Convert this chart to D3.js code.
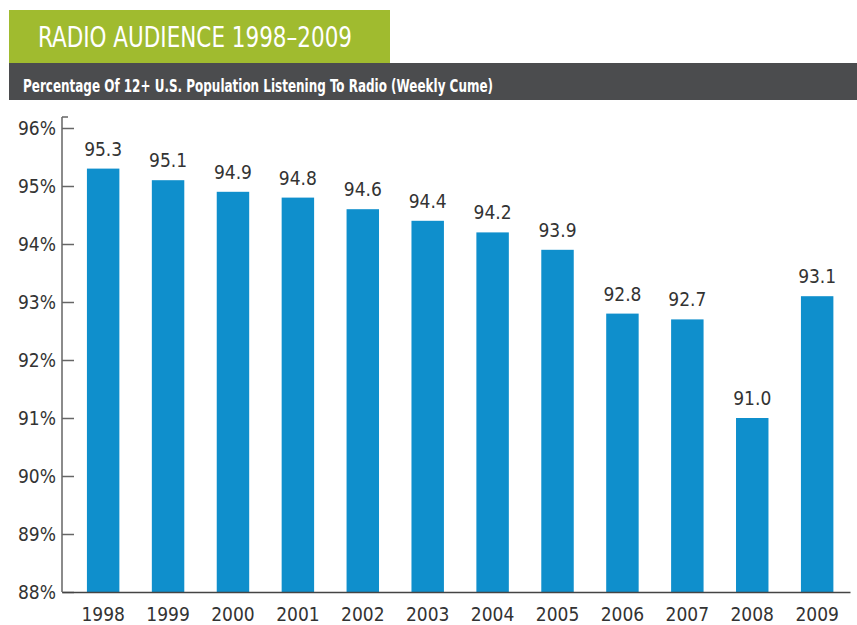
<!DOCTYPE html>
<html lang="en">
<head>
<meta charset="utf-8">
<title>Radio Audience</title>
<script src="https://cdn.jsdelivr.net/npm/d3@7"></script>
<style>
  html, body { margin: 0; padding: 0; background: #fff; }
  .nar { font-family: "Liberation Sans Narrow", "DejaVu Sans Condensed", "Arial Narrow", sans-serif; }
</style>
</head>
<body>
<script>
// data
const years = ["1998", "1999", "2000", "2001", "2002", "2003", "2004", "2005", "2006", "2007", "2008", "2009"];
const listening = [95.3, 95.1, 94.9, 94.8, 94.6, 94.4, 94.2, 93.9, 92.8, 92.7, 91.0, 93.1];
const yTicks = [88, 89, 90, 91, 92, 93, 94, 95, 96];

const w = 857, h = 625;

let svg = d3.select("body").append("svg")
  .attr("width", w)
  .attr("height", h);

// header bands
svg.append("rect").attr("x", 9).attr("y", 10).attr("width", 381).attr("height", 53).attr("fill", "#a0bb2f");
svg.append("rect").attr("x", 9).attr("y", 63).attr("width", 848).attr("height", 37).attr("fill", "#4b4c4e");

svg.append("text")
  .attr("class", "nar")
  .attr("x", 38).attr("y", 47)
  .attr("fill", "#fff")
  .style("font-size", "28px")
  .attr("textLength", 314)
  .attr("lengthAdjust", "spacingAndGlyphs")
  .text("RADIO AUDIENCE 1998\u20132009");

svg.append("text")
  .attr("class", "nar")
  .attr("x", 23).attr("y", 92)
  .attr("fill", "#fff")
  .style("font-size", "18px")
  .style("font-weight", "bold")
  .attr("textLength", 470)
  .attr("lengthAdjust", "spacingAndGlyphs")
  .text("Percentage Of 12+ U.S. Population Listening To Radio (Weekly Cume)");

// scales
let x = d3.scaleBand()
  .domain(years)
  .range([62, 850])
  .paddingInner(0.5)
  .paddingOuter(0.32)
  .align(0.6);

let y = d3.scaleLinear()
  .domain([88, 96])
  .range([592, 128]);

// bars
svg.selectAll("rect.bar")
  .data(years)
  .enter()
  .append("rect")
  .attr("class", "bar")
  .attr("x", d => x(d))
  .attr("y", (d, i) => y(listening[i]))
  .attr("width", x.bandwidth())
  .attr("height", (d, i) => y(88) - y(listening[i]))
  .attr("fill", "#0f8fcc");

// value labels
svg.selectAll("text.val")
  .data(years)
  .enter()
  .append("text")
  .attr("class", "val nar")
  .attr("x", d => x(d) + x.bandwidth() / 2)
  .attr("y", (d, i) => y(listening[i]) - 13)
  .attr("text-anchor", "middle")
  .attr("fill", "#333")
  .style("font-size", "19px")
  .text((d, i) => listening[i].toFixed(1));

// y axis
let yAxis = d3.axisLeft(y)
  .tickValues(yTicks)
  .tickSizeInner(-12)
  .tickSizeOuter(0)
  .tickPadding(6)
  .tickFormat(d => d + "%");

let gy = svg.append("g")
  .attr("transform", "translate(62,0)")
  .call(yAxis);
gy.select(".domain").attr("stroke", "#666").attr("stroke-width", 1.5)
  .attr("d", "M0," + (y(96) - 11) + "H6M0," + (y(96) - 11) + "V" + y(88));
gy.selectAll(".tick line").attr("stroke", "#666").attr("stroke-width", 1.5);
gy.selectAll(".tick text")
  .attr("class", "nar")
  .attr("fill", "#333")
  .style("font-size", "19px");

// x axis
let xAxis = d3.axisBottom(x).tickSize(0).tickPadding(16);
let gx = svg.append("g")
  .attr("transform", "translate(0," + y(88) + ")")
  .call(xAxis);
gx.select(".domain").attr("stroke", "#444").attr("stroke-width", 1.5);
gx.selectAll(".tick text")
  .attr("class", "nar")
  .attr("fill", "#333")
  .style("font-size", "19px");
</script>
</body>
</html>
